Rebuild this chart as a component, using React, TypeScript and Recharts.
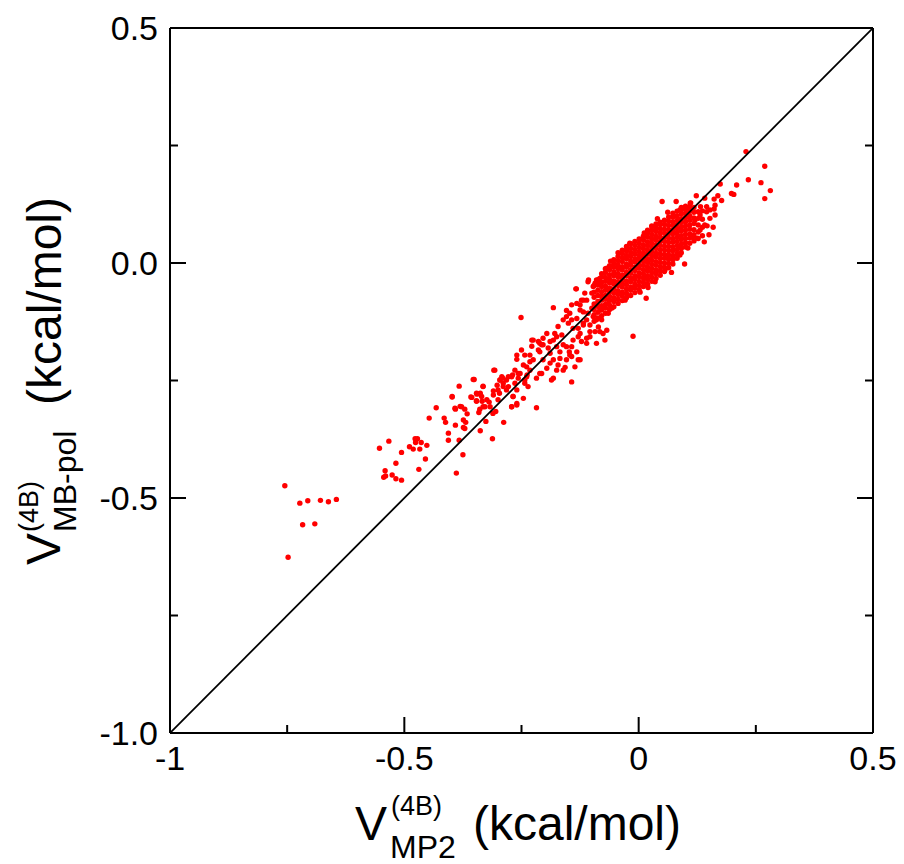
import React from "react";
import { ScatterChart, Scatter, XAxis, YAxis } from "recharts";

// axis ticks (major every 0.5 with labels, minor every 0.25)
const TICKS = [-1, -0.75, -0.5, -0.25, 0, 0.25, 0.5];
const X_LABELS: Record<string, string> = { "-1": "-1", "-0.5": "-0.5", "0": "0", "0.5": "0.5" };
const Y_LABELS: Record<string, string> = { "-1": "-1.0", "-0.5": "-0.5", "0": "0.0", "0.5": "0.5" };

// y = x reference diagonal
const DIAGONAL = [
  { x: -1, y: -1 },
  { x: 0.5, y: 0.5 },
];

// far tail (most negative energies)
const TAIL_POINTS: number[][] = [
  [-0.755, -0.474], [-0.748, -0.626], [-0.723, -0.511], [-0.706, -0.506], [-0.679, -0.505],
  [-0.662, -0.508], [-0.645, -0.503], [-0.717, -0.557], [-0.691, -0.555],
  [-0.553, -0.394], [-0.533, -0.379], [-0.541, -0.442], [-0.544, -0.456], [-0.540, -0.453],
  [-0.526, -0.451], [-0.518, -0.459], [-0.506, -0.462], [-0.518, -0.426], [-0.506, -0.403],
  [-0.489, -0.391], [-0.481, -0.396], [-0.477, -0.374], [-0.472, -0.374], [-0.476, -0.382],
  [-0.464, -0.382], [-0.467, -0.396], [-0.452, -0.388], [-0.455, -0.417], [-0.469, -0.439],
  [-0.447, -0.330], [-0.432, -0.308], [-0.415, -0.330], [-0.412, -0.339], [-0.406, -0.362],
  [-0.406, -0.377], [-0.391, -0.345], [-0.391, -0.311], [-0.383, -0.377], [-0.389, -0.447],
  [-0.375, -0.408], [-0.374, -0.350], [-0.371, -0.352], [-0.374, -0.334], [-0.369, -0.339],
  [-0.381, -0.305], [-0.371, -0.311], [-0.366, -0.321], [-0.398, -0.285], [-0.383, -0.262],
  [-0.351, -0.248], [-0.358, -0.285], [-0.345, -0.279], [-0.338, -0.277], [-0.332, -0.262],
  [-0.346, -0.294], [-0.334, -0.294], [-0.339, -0.311], [-0.341, -0.318], [-0.338, -0.357],
  [-0.326, -0.337], [-0.328, -0.306], [-0.319, -0.296], [-0.312, -0.374], [-0.309, -0.228],
  [-0.311, -0.320], [-0.305, -0.316], [-0.288, -0.339], [-0.300, -0.291], [-0.310, -0.272],
  [-0.302, -0.260], [-0.296, -0.249], [-0.290, -0.245], [-0.278, -0.242], [-0.269, -0.238],
  [-0.282, -0.270], [-0.268, -0.284], [-0.260, -0.299], [-0.271, -0.306], [-0.264, -0.256],
  [-0.257, -0.235], [-0.297, -0.277], [-0.289, -0.263], [-0.398, -0.284], [-0.378, -0.306],
  [-0.392, -0.309], [-0.353, -0.248], [-0.346, -0.277], [-0.335, -0.284], [-0.356, -0.286],
  [-0.324, -0.291], [-0.346, -0.293], [-0.332, -0.306], [-0.317, -0.306], [-0.332, -0.263],
  [-0.310, -0.281], [-0.307, -0.228],
];

// band between tail and core
const MID_POINTS: number[][] = [
  [-0.251, -0.116], [-0.182, -0.095], [-0.134, -0.055], [-0.154, -0.101], [-0.143, -0.089],
  [-0.125, -0.089], [-0.111, -0.079], [-0.100, -0.064], [-0.093, -0.043], [-0.161, -0.121],
  [-0.150, -0.128], [-0.140, -0.139], [-0.132, -0.118], [-0.118, -0.128], [-0.125, -0.150],
  [-0.111, -0.171], [-0.122, -0.167], [-0.104, -0.157], [-0.093, -0.146], [-0.090, -0.171],
  [-0.140, -0.164], [-0.143, -0.178], [-0.132, -0.189], [-0.129, -0.206], [-0.143, -0.253],
  [-0.157, -0.222], [-0.154, -0.206], [-0.168, -0.203], [-0.168, -0.189], [-0.161, -0.174],
  [-0.175, -0.178], [-0.182, -0.164], [-0.179, -0.150], [-0.189, -0.167], [-0.172, -0.135],
  [-0.164, -0.153], [-0.204, -0.160], [-0.193, -0.181], [-0.211, -0.189], [-0.204, -0.206],
  [-0.196, -0.224], [-0.175, -0.228], [-0.186, -0.249], [-0.214, -0.167], [-0.228, -0.164],
  [-0.228, -0.177], [-0.214, -0.185], [-0.225, -0.206], [-0.211, -0.235], [-0.218, -0.245],
  [-0.232, -0.228], [-0.239, -0.221], [-0.232, -0.210], [-0.246, -0.217], [-0.260, -0.196],
  [-0.260, -0.205], [-0.264, -0.228], [-0.253, -0.235], [-0.271, -0.242], [-0.257, -0.245],
  [-0.243, -0.249], [-0.238, -0.238], [-0.282, -0.249], [-0.289, -0.256], [-0.296, -0.249],
  [-0.292, -0.242], [-0.278, -0.263], [-0.300, -0.270], [-0.260, -0.270], [-0.246, -0.288],
  [-0.268, -0.284], [-0.260, -0.302], [-0.271, -0.306], [-0.218, -0.308], [-0.250, -0.185],
  [-0.243, -0.196], [-0.232, -0.196], [-0.204, -0.174], [-0.189, -0.192], [-0.182, -0.206],
  [-0.172, -0.217], [-0.148, -0.189], [-0.143, -0.199], [-0.175, -0.157], [-0.196, -0.150],
  [-0.211, -0.171], [-0.243, -0.256], [-0.236, -0.263], [-0.090, -0.121], [-0.097, -0.114],
  [-0.108, -0.107], [-0.118, -0.104], [-0.104, -0.132], [-0.086, -0.136], [-0.090, -0.089],
  [-0.100, -0.096], [-0.154, -0.178], [-0.136, -0.221], [-0.076, -0.150], [-0.111, -0.160],
  [-0.072, -0.164], [-0.083, -0.146], [-0.104, -0.146], [-0.065, -0.107], [-0.079, -0.121],
  [-0.111, -0.121], [-0.083, -0.100], [-0.125, -0.100], [-0.129, -0.157], [-0.125, -0.206],
  [-0.161, -0.228], [-0.147, -0.196], [-0.189, -0.213], [-0.207, -0.174], [-0.225, -0.164],
  [-0.239, -0.242], [-0.207, -0.235], [-0.182, -0.245], [-0.108, -0.040], [-0.083, -0.043],
  [-0.118, -0.079], [-0.132, -0.086], [-0.154, -0.114], [-0.143, -0.121], [-0.118, -0.132],
  [-0.129, -0.139], [-0.068, -0.143], [-0.065, -0.086], [-0.115, -0.064], [-0.097, -0.050],
  [-0.083, -0.033], [-0.147, -0.107], [-0.122, -0.079], [-0.012, -0.156], [0.016, -0.075],
  [-0.057, -0.096], [-0.029, -0.079], [0.003, -0.062], [0.035, -0.040], [0.056, -0.015],
];

// sparse points around and above the core
const HALO_POINTS: number[][] = [
  [0.229, 0.237], [0.269, 0.206], [0.234, 0.177], [0.261, 0.171], [0.281, 0.154],
  [0.269, 0.137], [0.209, 0.166], [0.198, 0.148], [0.203, 0.146], [0.177, 0.133],
  [0.174, 0.168], [0.169, 0.143], [0.161, 0.136], [0.161, 0.115], [0.159, 0.076],
  [0.146, 0.079], [0.140, 0.045], [0.123, 0.143], [0.111, 0.128], [0.080, 0.131],
  [0.050, 0.131], [0.145, 0.120], [0.145, 0.109], [0.152, 0.095], [0.088, 0.113],
  [0.110, 0.127], [0.141, 0.138], [0.163, 0.123], [0.116, 0.056], [0.088, 0.035],
  [0.074, 0.010], [0.131, 0.102], [0.152, 0.113], [0.120, 0.091], [0.141, 0.081],
  [0.163, 0.102], [0.131, 0.070], [0.088, 0.017], [0.105, 0.032], [0.125, 0.053],
  [0.063, 0.010], [0.028, 0.077], [-0.026, 0.028], [-0.036, 0.021], [-0.019, 0.042],
  [-0.068, -0.011], [-0.090, -0.036], [-0.107, -0.036], [-0.133, -0.055],
  [0.040, 0.094], [0.062, 0.108], [0.012, 0.064], [-0.044, 0.022], [-0.060, 0.004],
  [0.150, 0.060], [0.132, 0.120], [0.098, -0.002], [0.070, -0.020], [0.020, -0.052],
];

// dense core: for each MP2 value, the MB-pol values read down the blob
const CORE_COLUMNS: [number, number[]][] = [
  [-0.095, [-0.124, -0.110, -0.099, -0.087, -0.073, -0.062, -0.048]],
  [-0.087, [-0.117, -0.105, -0.092, -0.082, -0.069, -0.058, -0.047, -0.036]],
  [-0.079, [-0.112, -0.100, -0.091, -0.079, -0.071, -0.061, -0.050, -0.041, -0.030, -0.023]],
  [-0.071, [-0.107, -0.096, -0.088, -0.077, -0.069, -0.058, -0.049, -0.039, -0.031, -0.020, -0.012]],
  [-0.062, [-0.099, -0.090, -0.079, -0.071, -0.061, -0.053, -0.042, -0.034, -0.025, -0.014, -0.006]],
  [-0.053, [-0.093, -0.082, -0.074, -0.064, -0.056, -0.045, -0.038, -0.027, -0.019, -0.009, -0.001, 0.007]],
  [-0.044, [-0.086, -0.077, -0.067, -0.059, -0.048, -0.040, -0.030, -0.022, -0.012, -0.004, 0.005, 0.014]],
  [-0.035, [-0.080, -0.070, -0.062, -0.051, -0.043, -0.033, -0.026, -0.015, -0.008, 0.003, 0.011, 0.020, 0.027]],
  [-0.026, [-0.074, -0.065, -0.056, -0.046, -0.038, -0.027, -0.020, -0.009, -0.002, 0.009, 0.016, 0.026, 0.035]],
  [-0.017, [-0.069, -0.058, -0.051, -0.040, -0.032, -0.022, -0.014, -0.004, 0.004, 0.014, 0.022, 0.031, 0.041]],
  [-0.008, [-0.063, -0.053, -0.045, -0.035, -0.027, -0.016, -0.009, 0.002, 0.009, 0.019, 0.028, 0.037, 0.046]],
  [0.001, [-0.057, -0.048, -0.039, -0.029, -0.021, -0.011, -0.003, 0.007, 0.015, 0.024, 0.033, 0.042, 0.051]],
  [0.010, [-0.050, -0.041, -0.032, -0.023, -0.014, -0.005, 0.004, 0.013, 0.021, 0.031, 0.039, 0.049, 0.057]],
  [0.019, [-0.045, -0.035, -0.027, -0.017, -0.009, 0.001, 0.009, 0.019, 0.027, 0.037, 0.045, 0.055, 0.064, 0.070]],
  [0.028, [-0.039, -0.030, -0.021, -0.012, -0.003, 0.006, 0.015, 0.024, 0.033, 0.042, 0.051, 0.060, 0.069, 0.079]],
  [0.037, [-0.033, -0.023, -0.015, -0.005, 0.003, 0.013, 0.021, 0.031, 0.039, 0.049, 0.057, 0.067, 0.075, 0.083]],
  [0.046, [-0.026, -0.017, -0.008, 0.001, 0.010, 0.019, 0.028, 0.037, 0.046, 0.055, 0.064, 0.073, 0.082, 0.087]],
  [0.055, [-0.018, -0.009, 0.000, 0.010, 0.018, 0.028, 0.036, 0.046, 0.054, 0.064, 0.072, 0.082, 0.091]],
  [0.064, [-0.010, -0.001, 0.008, 0.017, 0.026, 0.035, 0.044, 0.053, 0.062, 0.071, 0.080, 0.089, 0.098]],
  [0.073, [-0.002, 0.007, 0.016, 0.026, 0.034, 0.044, 0.052, 0.062, 0.070, 0.080, 0.088, 0.098, 0.106]],
  [0.082, [0.010, 0.019, 0.028, 0.037, 0.046, 0.055, 0.064, 0.073, 0.082, 0.091, 0.100, 0.110]],
  [0.091, [0.022, 0.031, 0.040, 0.050, 0.058, 0.068, 0.076, 0.086, 0.094, 0.104, 0.113, 0.118]],
  [0.100, [0.034, 0.043, 0.052, 0.061, 0.070, 0.079, 0.088, 0.097, 0.106, 0.115, 0.121]],
  [0.109, [0.042, 0.053, 0.062, 0.072, 0.081, 0.091, 0.100, 0.110, 0.119]],
  [0.118, [0.047, 0.060, 0.071, 0.084, 0.096, 0.108, 0.118]],
  [0.127, [0.052, 0.066, 0.081, 0.095, 0.109]],
  [0.136, [0.058, 0.076, 0.093, 0.111]],
];

const FONT = "'Liberation Sans', Arial, Helvetica, sans-serif";

const toPoints = (pairs: number[][]) => pairs.map(([x, y]) => ({ x, y }));
const data = [
  ...toPoints(TAIL_POINTS),
  ...toPoints(MID_POINTS),
  ...toPoints(HALO_POINTS),
  ...CORE_COLUMNS.flatMap(([x, ys]) => ys.map((y) => ({ x, y }))),
];

type Side = "bottom" | "top" | "left" | "right";

function makeTick(side: Side, labels?: Record<string, string>) {
  return (props: any) => {
    const { x, y, payload } = props;
    const v = payload.value as number;
    const major = Number.isInteger(v * 2);
    const len = major ? 16 : 8;
    const label = labels ? labels[String(v)] : undefined;
    let line;
    if (side === "bottom") line = <line x1={x} y1={y} x2={x} y2={y - len} />;
    else if (side === "top") line = <line x1={x} y1={y} x2={x} y2={y + len} />;
    else if (side === "left") line = <line x1={x} y1={y} x2={x + len} y2={y} />;
    else line = <line x1={x} y1={y} x2={x - len} y2={y} />;
    return (
      <g>
        <g stroke="#000" strokeWidth={2}>{line}</g>
        {label !== undefined && side === "bottom" && (
          <text x={x} y={y + 37} textAnchor="middle" fontSize={34} fontFamily={FONT} fill="#000">{label}</text>
        )}
        {label !== undefined && side === "left" && (
          <text x={x - 12} y={y + 12} textAnchor="end" fontSize={34} fontFamily={FONT} fill="#000">{label}</text>
        )}
      </g>
    );
  };
}

const renderXTitle = () => (
  <text fontFamily={FONT} fill="#000">
    <tspan x={355} y={840} fontSize={48}>V</tspan>
    <tspan x={391} y={815} fontSize={27}>(4B)</tspan>
    <tspan x={390} y={858} fontSize={32}>MP2</tspan>
    <tspan x={473} y={840} fontSize={48}>(kcal/mol)</tspan>
  </text>
);

const renderYTitle = () => (
  <text fontFamily={FONT} fill="#000" transform="rotate(-90)">
    <tspan x={-565} y={60} fontSize={48}>V</tspan>
    <tspan x={-532} y={38} fontSize={27}>(4B)</tspan>
    <tspan x={-532} y={76} fontSize={32}>MB-pol</tspan>
    <tspan x={-405} y={61} fontSize={48}>(kcal/mol)</tspan>
  </text>
);

const axisLine = { stroke: "#000", strokeWidth: 2 };

export default function App() {
  return (
    <div style={{ position: "absolute", left: 0, top: 0, width: 904, height: 864, background: "#fff" }}>
      <ScatterChart width={904} height={864} margin={{ top: 26, right: 29, left: 110, bottom: 91 }}>
        <XAxis
          dataKey="x" type="number" domain={[-1, 0.5]} ticks={TICKS} interval={0}
          height={40} tickSize={0} tickMargin={0} tickLine={false} axisLine={axisLine}
          tick={makeTick("bottom", X_LABELS)} label={renderXTitle} allowDataOverflow
        />
        <XAxis
          xAxisId="top" orientation="top" type="number" domain={[-1, 0.5]} ticks={TICKS} interval={0}
          height={2} tickSize={0} tickMargin={0} tickLine={false} axisLine={axisLine}
          tick={makeTick("top")} allowDataOverflow
        />
        <YAxis
          dataKey="y" type="number" domain={[-1, 0.5]} ticks={TICKS} interval={0}
          width={60} tickSize={0} tickMargin={0} tickLine={false} axisLine={axisLine}
          tick={makeTick("left", Y_LABELS)} label={renderYTitle} allowDataOverflow
        />
        <YAxis
          yAxisId="right" orientation="right" type="number" domain={[-1, 0.5]} ticks={TICKS} interval={0}
          width={2} tickSize={0} tickMargin={0} tickLine={false} axisLine={axisLine}
          tick={makeTick("right")} allowDataOverflow
        />
        <Scatter
          data={data}
          fill="#ff0000"
          isAnimationActive={false}
          shape={(p: any) => <circle cx={p.cx} cy={p.cy} r={2.7} fill="#ff0000" />}
        />
        <Scatter
          data={DIAGONAL}
          line={{ stroke: "#000", strokeWidth: 1.8 }}
          isAnimationActive={false}
          shape={() => <g />}
        />
      </ScatterChart>
    </div>
  );
}
